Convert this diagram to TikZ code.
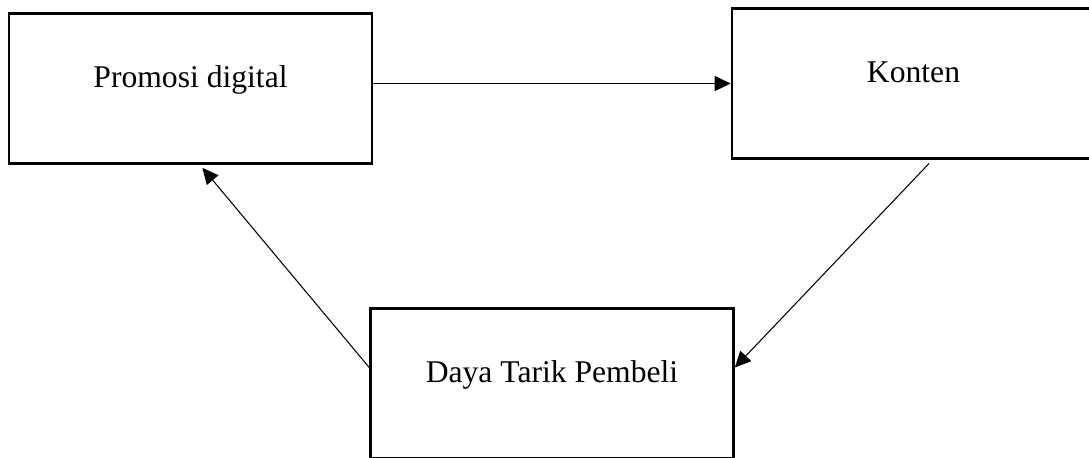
\documentclass[tikz,border=0pt]{standalone}
\usepackage{fontspec}
\setmainfont{Liberation Serif}
\usetikzlibrary{arrows.meta}

\begin{document}
\begin{tikzpicture}[x=0.02cm, y=-0.02cm,
      box/.style={draw, line width=1.5pt, minimum width=7.26cm, inner sep=0pt,
                  text height=1.47cm, text depth=1.53cm, anchor=base,
                  font=\fontsize{18}{22}\selectfont},
      arr/.style={-{Triangle[length=0.32cm, width=0.3cm]}, line width=0.6pt}
    ]
      \useasboundingbox (0,0) rectangle (1089,457);
      \clip (0,0) rectangle (1089,457);

      \node[box] (promo) at (190.5,87) {Promosi digital};
      \node[box] (konten) at (913.5,82) {Konten};
      \node[box] (daya) at (552,382) {Daya Tarik Pembeli};

      % Cycle
      \draw[arr] (promo.east |- konten.west) -- (konten.west);
      \draw[arr, shorten <=0.1cm] (konten.-76) -- (daya.5);
      \draw[arr, shorten >=0.08cm] (daya.175) -- (promo.-83);
    \end{tikzpicture}
\end{document}
